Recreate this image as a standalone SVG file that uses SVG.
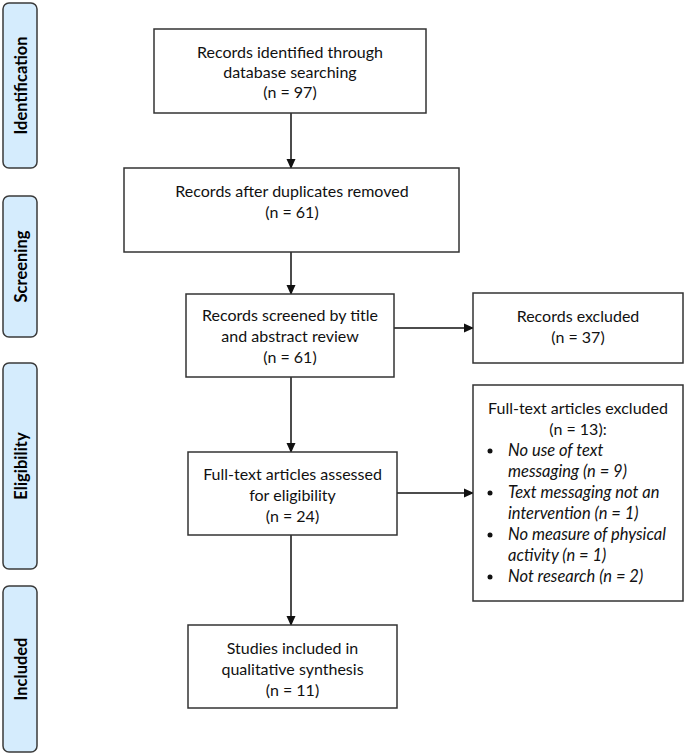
<svg xmlns="http://www.w3.org/2000/svg" width="685" height="755" viewBox="0 0 685 755">
<style>
.bar{fill:#d5ecfd;stroke:#3a3a3a;stroke-width:1.5}
.box{fill:#ffffff;stroke:#333333;stroke-width:1.5}
.lbl{font-family:Lato,"Liberation Sans",sans-serif;font-weight:bold;font-size:16.5px;fill:#000;text-anchor:middle}
.t{font-family:Lato,"Liberation Sans",sans-serif;font-size:16px;fill:#111;text-anchor:middle}
.ti{font-family:Lato,"Liberation Sans",sans-serif;font-size:16.5px;fill:#111;font-style:italic}
.c{stroke:#111;stroke-width:1.5;fill:none;marker-end:url(#ah)}
</style>
<defs>
<marker id="ah" markerWidth="10" markerHeight="10" refX="9" refY="5" orient="auto" markerUnits="userSpaceOnUse">
<path d="M0,0.5 L10,5 L0,9.5 z" fill="#111"/>
</marker>
</defs>
<rect width="685" height="755" fill="#ffffff"/>
<g id="phase-identification">
<rect class="bar" x="3" y="3" width="34" height="165" rx="6"/>
<text class="lbl" transform="translate(26.5,85.5) rotate(-90)">Identification</text>
</g>
<g id="phase-screening">
<rect class="bar" x="3" y="196" width="34" height="141" rx="6"/>
<text class="lbl" transform="translate(26.5,266.5) rotate(-90)">Screening</text>
</g>
<g id="phase-eligibility">
<rect class="bar" x="3" y="363" width="34" height="206" rx="6"/>
<text class="lbl" transform="translate(26.5,466) rotate(-90)">Eligibility</text>
</g>
<g id="phase-included">
<rect class="bar" x="3" y="586" width="34" height="166" rx="6"/>
<text class="lbl" transform="translate(26.5,669) rotate(-90)">Included</text>
</g>
<g id="connectors">
<line class="c" x1="291" y1="113" x2="291" y2="168"/>
<line class="c" x1="291" y1="252" x2="291" y2="294"/>
<line class="c" x1="394" y1="328" x2="473" y2="328"/>
<line class="c" x1="291" y1="377" x2="291" y2="452"/>
<line class="c" x1="397" y1="493" x2="473" y2="493"/>
<line class="c" x1="291" y1="535" x2="291" y2="625"/>
</g>
<g id="n-identified">
<rect class="box" x="154" y="29" width="272" height="84"/>
<text class="t" x="290" y="58">Records identified through</text>
<text class="t" x="290" y="78">database searching</text>
<text class="t" x="290" y="98">(n = 97)</text>
</g>
<g id="n-duplicates">
<rect class="box" x="124" y="168" width="335" height="84"/>
<text class="t" x="292" y="197">Records after duplicates removed</text>
<text class="t" x="292" y="218">(n = 61)</text>
</g>
<g id="n-screened">
<rect class="box" x="186" y="294" width="208" height="83"/>
<text class="t" x="290" y="321">Records screened by title</text>
<text class="t" x="290" y="342">and abstract review</text>
<text class="t" x="290" y="363">(n = 61)</text>
</g>
<g id="n-excluded">
<rect class="box" x="473" y="293" width="210" height="70"/>
<text class="t" x="578" y="322">Records excluded</text>
<text class="t" x="578" y="343">(n = 37)</text>
</g>
<g id="n-fulltext">
<rect class="box" x="188" y="452" width="209" height="83"/>
<text class="t" x="292.5" y="480">Full-text articles assessed</text>
<text class="t" x="292.5" y="501">for eligibility</text>
<text class="t" x="292.5" y="522">(n = 24)</text>
</g>
<g id="n-fulltext-excluded">
<rect class="box" x="473" y="385" width="210" height="216"/>
<text class="t" x="578" y="414">Full-text articles excluded</text>
<text class="t" x="578" y="435">(n = 13):</text>
<g fill="#111">
<circle cx="490" cy="451" r="2.5"/>
<circle cx="490" cy="493" r="2.5"/>
<circle cx="490" cy="535" r="2.5"/>
<circle cx="490" cy="577" r="2.5"/>
</g>
<text class="ti" x="508" y="456">No use of text</text>
<text class="ti" x="508" y="477">messaging (n = 9)</text>
<text class="ti" x="508" y="498">Text messaging not an</text>
<text class="ti" x="508" y="519">intervention (n = 1)</text>
<text class="ti" x="508" y="540">No measure of physical</text>
<text class="ti" x="508" y="561">activity (n = 1)</text>
<text class="ti" x="508" y="582">Not research (n = 2)</text>
</g>
<g id="n-included">
<rect class="box" x="188" y="625" width="209" height="83"/>
<text class="t" x="292.5" y="654">Studies included in</text>
<text class="t" x="292.5" y="675">qualitative synthesis</text>
<text class="t" x="292.5" y="696">(n = 11)</text>
</g>
</svg>
